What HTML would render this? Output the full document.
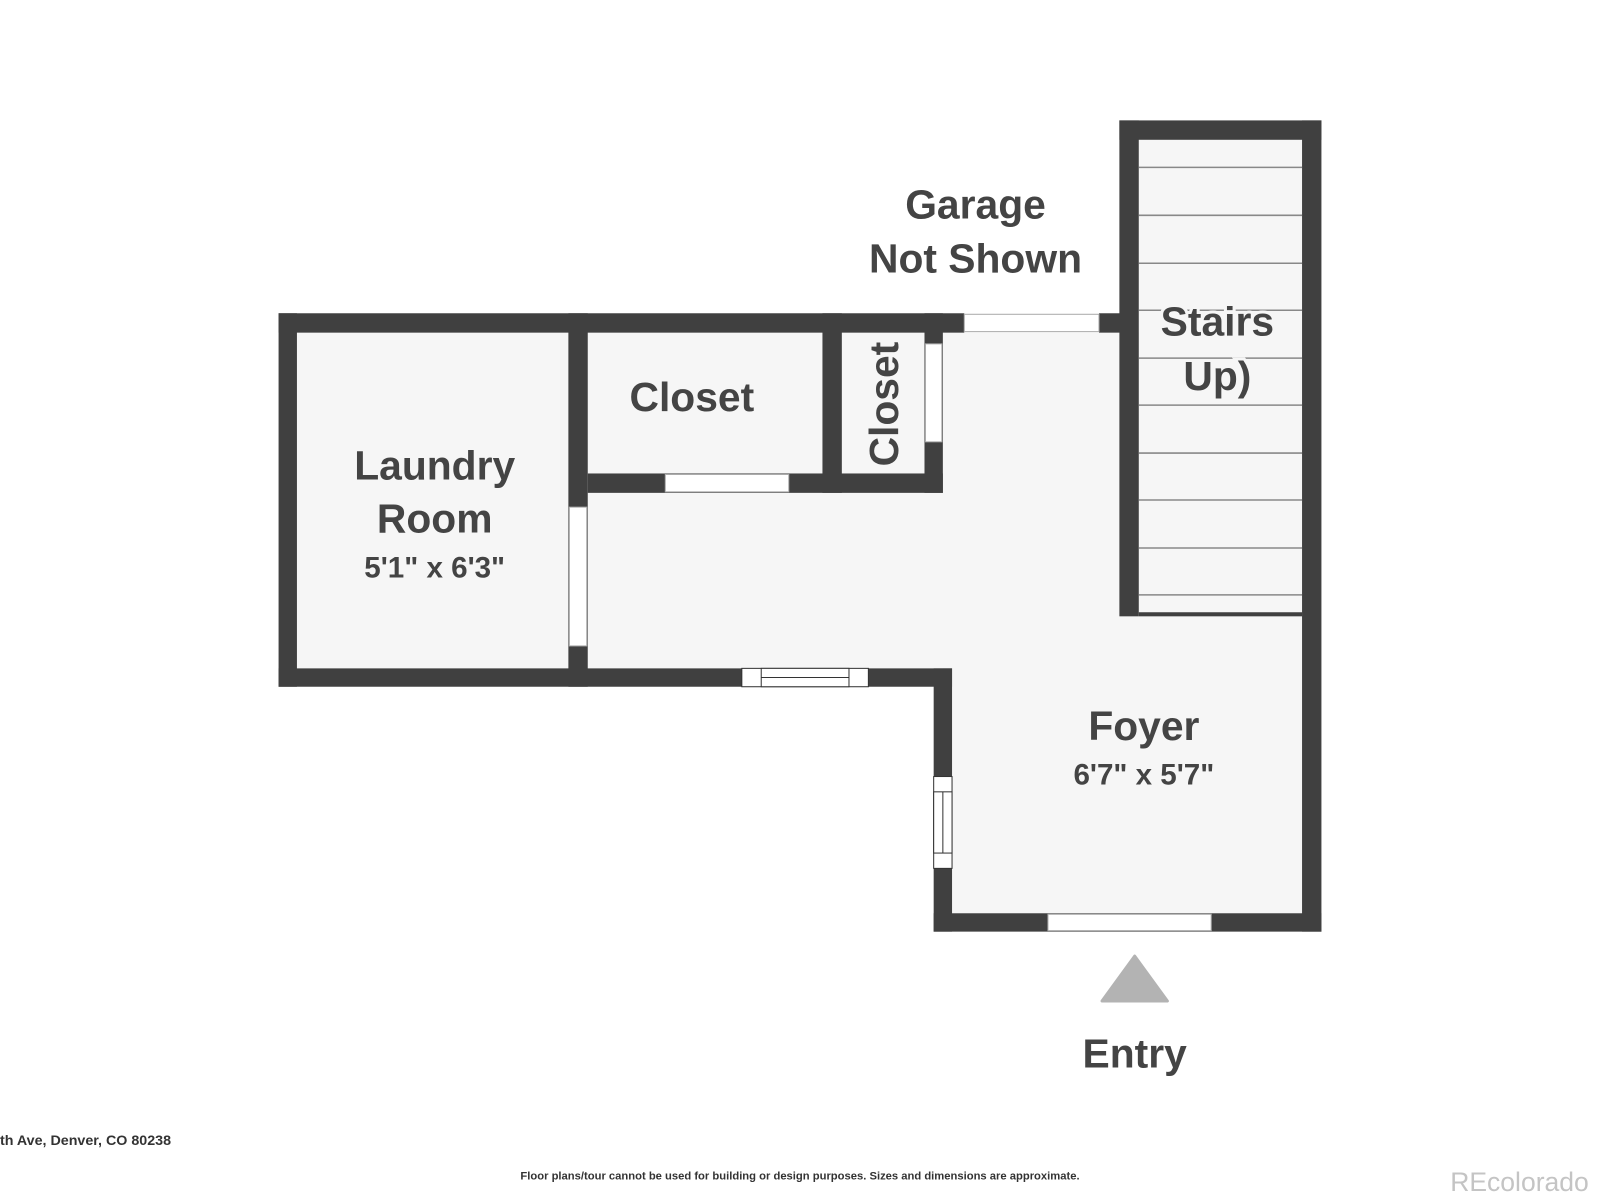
<!DOCTYPE html>
<html><head><meta charset="utf-8"><style>
html,body{margin:0;padding:0;background:#fff;width:1600px;height:1200px;overflow:hidden}
svg{display:block}
text{font-family:"Liberation Sans",sans-serif;font-weight:bold;fill:#444}
</style></head><body>
<svg width="1600" height="1200" viewBox="0 0 1568 1176" xmlns="http://www.w3.org/2000/svg">
<rect width="1568" height="1176" fill="#fff"/>
<g fill="#f6f6f6">
<rect x="291" y="326" width="266" height="329"/>
<rect x="576" y="326" width="230" height="138"/>
<rect x="825" y="326" width="81" height="138"/>
<rect x="576" y="326" width="521" height="329" />
<rect x="924" y="326" width="352" height="569"/>
<rect x="1116" y="137" width="160" height="463"/>
</g>
<g fill="#404040">
<rect x="273" y="307" width="672" height="19"/>
<rect x="1077" y="307" width="21" height="19"/>
<rect x="273" y="307" width="18" height="366"/>
<rect x="273" y="655" width="660" height="18"/>
<rect x="557" y="307" width="19" height="366"/>
<rect x="576" y="464" width="348" height="19"/>
<rect x="806" y="307" width="19" height="176"/>
<rect x="906" y="307" width="18" height="176"/>
<rect x="915" y="655" width="18" height="258"/>
<rect x="915" y="895" width="380" height="18"/>
<rect x="1276" y="118" width="19" height="795"/>
<rect x="1097" y="118" width="198" height="19"/>
<rect x="1097" y="118" width="19" height="486"/>
<rect x="1116" y="600" width="160" height="4"/>
</g>
<g fill="#fff" stroke="#aaa" stroke-width="1">
<rect x="945" y="308" width="132" height="17"/>
<rect x="558" y="497" width="17" height="136"/>
<rect x="652" y="465" width="121" height="17"/>
<rect x="907" y="337" width="16" height="96"/>
<rect x="1027" y="896" width="160" height="16"/>
</g>
<g fill="#fff" stroke="#333" stroke-width="1">
<rect x="727" y="655" width="124" height="18"/>
<rect x="746" y="655" width="86" height="18"/>
<line x1="746" y1="664" x2="832" y2="664"/>
<rect x="915" y="761" width="18" height="90"/>
<rect x="915" y="776" width="18" height="60"/>
<line x1="924" y1="776" x2="924" y2="836"/>
</g>
<g stroke="#888" stroke-width="1.5">
<line x1="1116" y1="164" x2="1276" y2="164"/>
<line x1="1116" y1="211" x2="1276" y2="211"/>
<line x1="1116" y1="258" x2="1276" y2="258"/>
<line x1="1116" y1="304" x2="1276" y2="304"/>
<line x1="1116" y1="351" x2="1276" y2="351"/>
<line x1="1116" y1="397" x2="1276" y2="397"/>
<line x1="1116" y1="444" x2="1276" y2="444"/>
<line x1="1116" y1="490" x2="1276" y2="490"/>
<line x1="1116" y1="537" x2="1276" y2="537"/>
<line x1="1116" y1="583" x2="1276" y2="583"/>
</g>
<g text-anchor="middle">
<text x="956" y="214" font-size="40">Garage</text>
<text x="956" y="267" font-size="40">Not Shown</text>
<text x="1193" y="329" font-size="40" stroke="#f6f6f6" stroke-width="6" paint-order="stroke">Stairs</text>
<text x="1193" y="382" font-size="40" stroke="#f6f6f6" stroke-width="6" paint-order="stroke">Up)</text>
<text x="426" y="470" font-size="40">Laundry</text>
<text x="426" y="522" font-size="40">Room</text>
<text x="426" y="566" font-size="29">5'1" x 6'3"</text>
<text x="678" y="403" font-size="40">Closet</text>
<text x="0" y="0" font-size="40" transform="translate(880,396) rotate(-90)">Closet</text>
<text x="1121" y="725" font-size="40">Foyer</text>
<text x="1121" y="769" font-size="29">6'7" x 5'7"</text>
<text x="1112" y="1046" font-size="40">Entry</text>
</g>
<polygon points="1112,937 1144,981 1080,981" fill="#b3b3b3" stroke="#b3b3b3" stroke-width="3" stroke-linejoin="round"/>
<text x="0" y="1122" font-size="14" style="fill:#333">th Ave, Denver, CO 80238</text>
<text x="784" y="1156" font-size="11" text-anchor="middle" style="fill:#333">Floor plans/tour cannot be used for building or design purposes. Sizes and dimensions are approximate.</text>
<text x="1557" y="1167" font-size="26" text-anchor="end" style="fill:#c4c4c4;font-weight:normal">REcolorado</text>
</svg>
</body></html>
